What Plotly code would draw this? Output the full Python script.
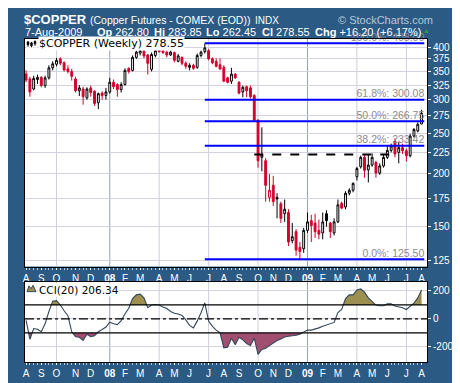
import plotly.graph_objects as go
import pandas as pd
import math

# ---------------- data (weekly, first bar week of 2007-08-06) ----------------
open_ = [345, 336, 318, 335, 339, 324, 338, 357, 364, 375, 367, 355, 350, 336, 315, 318, 303, 320, 314, 295,
         311, 307, 313, 330, 326, 317, 326, 356, 352, 378, 387, 391, 383, 354, 382, 393, 392, 389, 383, 388,
         370, 378, 366, 358, 362, 358, 382, 390, 392, 375, 370, 363, 358, 338, 332, 345, 330, 313, 322, 320,
         307, 268, 219, 215, 176, 188, 176, 170, 161, 162, 139, 146, 134, 133, 147, 155, 153, 147, 145, 161,
         153, 145, 154, 170.5, 167, 180, 183, 197, 208, 219, 204.5, 210, 213, 201, 209, 219, 227.5, 239, 225, 231,
         227, 221, 246, 253, 262.80]
high = [352, 340, 342, 344, 341, 342, 362, 370, 377, 378, 370, 362, 355, 340, 325, 322, 321, 324, 316, 312,
        314, 320, 338, 335, 328, 330, 356, 358, 382, 392, 396, 395, 385, 388, 396, 399, 396, 392, 392, 390,
        385, 380, 370, 366, 365, 386, 392, 408, 396, 378, 376, 376, 362, 340, 357, 347, 332, 324, 324, 324,
        309, 270, 258, 218, 200, 198, 180, 172, 174, 165, 153, 148, 138, 149, 162, 160, 161, 156, 162, 164,
        154, 157, 174, 172, 182, 185, 191, 208, 221, 222, 223, 224, 215, 212, 223, 233, 236, 243, 238, 236,
        230, 249, 257, 265, 283.85]
low = [330, 305, 316, 327, 321, 320, 335, 352, 360, 362, 350, 346, 333, 312, 306, 292, 300, 305, 290, 285,
       300, 300, 310, 318, 305, 312, 324, 346, 350, 375, 382, 376, 344, 350, 378, 388, 385, 378, 381, 368,
       368, 362, 355, 352, 353, 355, 378, 386, 372, 364, 358, 353, 330, 328, 327, 336, 309, 304, 304, 302,
       266, 207, 203, 172, 172, 168, 157, 153, 154, 135, 137, 128, 125.5, 130, 145, 138, 141, 140, 140, 150,
       141, 143, 153, 165, 165, 178, 181, 193, 206, 196, 191, 208, 196, 199, 207, 217, 225, 219, 212, 223,
       214, 219, 244, 251, 262.45]
close = [334, 313, 337, 339, 324, 338, 357, 365, 372, 366, 353, 350, 341, 315, 320, 305, 318, 312, 294, 310,
         307, 313, 330, 322, 317, 326, 352, 350, 378, 389, 392, 381, 366, 384, 392, 390, 388, 383, 389, 372,
         381, 366, 360, 362, 356, 382, 389, 398, 375, 367, 360, 355, 332, 330, 345, 338, 311, 321, 315, 305,
         268, 215, 222, 188, 183, 172, 174.5, 157, 165, 138, 142, 132, 131, 147, 154, 151, 146, 144, 154, 155,
         146, 154, 169, 166, 180, 183, 190, 206, 219, 204, 210, 219, 201, 209, 219, 227.5, 233, 223, 231, 227,
         221, 246, 255, 262.35, 278.55]
cci = [-10, -145, -69, -74, -92, -35, 53, 127, 131, 99, 58, 23, -92, -127, -131, -154, -110, -127, -120, -92,
       -76, -58, -23, -35, -41, -12, 35, 76, 145, 172, 177, 150, 80, 99, 103, 99, 85, 74, 53, 41,
       35, 25, -7, -46, -64, -16, 44, 115, -16, -53, -80, -99, -207, -202, -138, -184, -131, -150, -177, -191,
       -138, -253, -218, -209, -191, -172, -154, -143, -129, -124, -122, -117, -110, -92, -80, -80, -74, -64, -53, -44,
       -30, -25, 46, 67, 145, 172, 172, 207, 214, 191, 150, 122, 99, 94, 94, 108, 108, 92, 87, 80,
       67, 92, 113, 150, 206.34]

price_ticks = [125, 150, 175, 200, 225, 250, 275, 300, 325, 350, 375, 400]
cci_ticks = [-200, 0, 200]
cci_bands = [100, -100]
fib_pcts = [100.0, 61.8, 50.0, 38.2, 0.0]
fib_levels = [408.00, 300.08, 266.75, 233.42, 125.50]
support_level = 222.5
support_span = [60, 96]          # bar indices of the dashed line ends
month_letters = ["J", "F", "M", "A", "M", "J", "J", "A", "S", "O", "N", "D"]

# ---------------- helpers ----------------
n = len(close)
weeks = pd.date_range("2007-08-06", periods=n, freq="7D")
BG = "#2b5a84"
RED = "#d4002d"
OLIVE = "#9c8f50"
MAROON = "#a04f70"
W, H = 460, 383
ML, MR, MT, MB = 17, 41, 31, 17


def px_x(x):
    return (x - ML) / (W - ML - MR)


def px_y(y):
    return (H - MB - y) / (H - MT - MB)


fig = go.Figure()

# candles coloured the StockCharts way: red when close below previous close
red_idx = [i for i in range(n) if (close[i] < close[i - 1] if i > 0 else close[i] < open_[i])]
blk_idx = [i for i in range(n) if i not in red_idx]
for idx, col in ((blk_idx, "black"), (red_idx, RED)):
    fig.add_trace(go.Candlestick(
        x=[weeks[i] for i in idx], open=[open_[i] for i in idx], high=[high[i] for i in idx],
        low=[low[i] for i in idx], close=[close[i] for i in idx],
        increasing=dict(line=dict(color=col, width=1), fillcolor="white"),
        decreasing=dict(line=dict(color=col, width=1), fillcolor=col),
        whiskerwidth=0, hoverinfo="skip", showlegend=False, xaxis="x", yaxis="y"))

# Fibonacci retracement lines
i_hi = max(range(n), key=lambda i: high[i])
fib_end = weeks[-1] + pd.Timedelta(days=5)
for pct, lvl in zip(fib_pcts, fib_levels):
    fig.add_trace(go.Scatter(x=[weeks[i_hi], fib_end], y=[lvl, lvl], mode="lines",
                             line=dict(color="#0000ff", width=2), hoverinfo="skip", showlegend=False,
                             xaxis="x", yaxis="y"))
    fig.add_trace(go.Scatter(x=[fib_end], y=[lvl], mode="text", text=[f"{pct:.1f}%: {lvl:.2f}"],
                             textposition="top left", textfont=dict(color="#8c8c8c", size=10.5,
                                                                     family="Liberation Sans"),
                             cliponaxis=False, hoverinfo="skip", showlegend=False, xaxis="x", yaxis="y"))

# dashed support line
fig.add_trace(go.Scatter(x=[weeks[support_span[0]], weeks[support_span[1]]], y=[support_level] * 2,
                         mode="lines", line=dict(color="black", width=2, dash="dash"),
                         hoverinfo="skip", showlegend=False, xaxis="x", yaxis="y"))

# ---------------- CCI panel ----------------
tms = [t.value / 1e6 for t in weeks]


def clip_series(thr, above):
    xs, ys = [], []
    for k in range(n):
        v = cci[k]
        if k > 0:
            v0 = cci[k - 1]
            if (v0 - thr) * (v - thr) < 0:
                f = (thr - v0) / (v - v0)
                xs.append(tms[k - 1] + f * (tms[k] - tms[k - 1]))
                ys.append(thr)
        xs.append(tms[k])
        ys.append(max(v, thr) if above else min(v, thr))
    return pd.to_datetime(xs, unit="ms"), ys


for thr, above, col in ((cci_bands[0], True, OLIVE), (cci_bands[1], False, MAROON)):
    xs, ys = clip_series(thr, above)
    fig.add_trace(go.Scatter(x=xs, y=[thr] * len(xs), mode="lines", line=dict(width=0),
                             hoverinfo="skip", showlegend=False, xaxis="x2", yaxis="y2"))
    fig.add_trace(go.Scatter(x=xs, y=ys, mode="lines", line=dict(width=0), fill="tonexty",
                             fillcolor=col, hoverinfo="skip", showlegend=False, xaxis="x2", yaxis="y2"))

fig.add_trace(go.Scatter(x=weeks, y=cci, mode="lines", line=dict(color="#34475a", width=1.1),
                         hoverinfo="skip", showlegend=False, xaxis="x2", yaxis="y2"))

# ---------------- axes ----------------
month_vals, month_text = [], []
quarter_vals = []
for i, d in enumerate(weeks):
    if i == 0 or d.month != weeks[i - 1].month:
        month_vals.append(d)
        month_text.append(f"<b>{d.strftime('%y')}</b>" if d.month == 1 else month_letters[d.month - 1])
        if i > 0 and d.month in (1, 4, 7, 10):
            quarter_vals.append(d)

x_range = [weeks[0] - pd.Timedelta(days=2), weeks[-1] + pd.Timedelta(days=10)]
tickfont = dict(color="white", size=10, family="Liberation Sans")
xcommon = dict(type="date", range=x_range, tickvals=month_vals, ticktext=month_text, tickfont=tickfont,
               ticks="outside", ticklen=2, tickcolor="white", showgrid=False, showline=True,
               linecolor="black", linewidth=1, mirror=True, fixedrange=True,
               minor=dict(tickvals=list(weeks), ticks="outside", ticklen=2, tickcolor="#b8c8d8",
                          showgrid=False),
               rangeslider=dict(visible=False))

shapes = []
for d in quarter_vals:
    gc = "#9aa0b0" if d.month == 1 else "#cfcfdc"
    for xr, yr in (("x", "y domain"), ("x2", "y2 domain")):
        shapes.append(dict(type="line", xref=xr, yref=yr, x0=d, x1=d, y0=0, y1=1,
                           line=dict(color=gc, width=1), layer="below"))
for lvl in cci_bands:
    shapes.append(dict(type="line", xref="x2 domain", yref="y2", x0=0, x1=1, y0=lvl, y1=lvl,
                       line=dict(color="black", width=1.3)))
shapes.append(dict(type="line", xref="x2 domain", yref="y2", x0=0, x1=1, y0=0, y1=0,
                   line=dict(color="black", width=1.2, dash="dashdot")))


def pxpath(points):
    return "M " + " L ".join(f"{px_x(x)},{px_y(y)}" for x, y in points) + " Z"


# legend icons (small candle glyph and small mountain glyph)
shapes.append(dict(type="rect", xref="paper", yref="paper", x0=px_x(18), x1=px_x(29),
                   y0=px_y(40), y1=px_y(32), fillcolor="white", line=dict(width=0)))
for x0, ytop, ybot, btop, bbot in ((20, 33, 39, 34, 37), (23.5, 34, 39.5, 35, 38), (27, 32.5, 38, 33.5, 36)):
    shapes.append(dict(type="line", xref="paper", yref="paper", x0=px_x(x0), x1=px_x(x0),
                       y0=px_y(ybot), y1=px_y(ytop), line=dict(color="black", width=1)))
    shapes.append(dict(type="rect", xref="paper", yref="paper", x0=px_x(x0 - 1), x1=px_x(x0 + 1),
                       y0=px_y(bbot), y1=px_y(btop), fillcolor="black", line=dict(color="black", width=0.5)))
shapes.append(dict(type="rect", xref="paper", yref="paper", x0=px_x(18), x1=px_x(29),
                   y0=px_y(294), y1=px_y(285), fillcolor="white", line=dict(width=0)))
shapes.append(dict(type="path", xref="paper", yref="paper",
                   path=pxpath([(19, 293), (21, 287), (23, 290), (25, 286.5), (28, 293)]),
                   fillcolor=OLIVE, line=dict(color="#34475a", width=1)))

price_lo = 400 * math.exp(-(267 - 39.3) / 190)
price_hi = 400 * math.exp((39.3 - 31) / 190)

annotations = []


def ann(x, y, text, size=11, color="white", family="Liberation Sans", **kw):
    d = dict(xref="paper", yref="paper", x=px_x(x), y=px_y(y), text=text, showarrow=False,
             xanchor="left", yanchor="middle", font=dict(size=size, color=color, family=family))
    d.update(kw)
    annotations.append(d)


ann(14, 11, "<b>$COPPER</b>", size=13)
ann(80, 11.5, "(Copper Futures - COMEX (EOD))", size=10.5)
ann(245, 11.5, "INDX", size=10)
ann(328, 11, "© StockCharts.com", size=11, color="#b7c8da")
ann(15, 23.5, "7-Aug-2009", size=11)
chg = close[-1] - close[-2]
ann(87, 23.5, f"<b>Op</b> {open_[-1]:.2f}", size=11)
ann(144, 23.5, f"<b>Hi</b> {high[-1]:.2f}", size=11)
ann(196, 23.5, f"<b>Lo</b> {low[-1]:.2f}", size=11)
ann(252, 23.5, f"<b>Cl</b> {close[-1]:.2f}", size=11)
ann(305, 23.5, f"<b>Chg</b> {chg:+.2f} ({chg / close[-2] * 100:+.2f}%)", size=11)
ann(413, 22.5, "▲", size=7, color="#2e9a3e")
ann(30, 36, f"$COPPER (Weekly) {close[-1]:.2f}", size=11, color="black", family="DejaVu Sans",
    bgcolor="white", borderpad=0)
ann(30, 291, f"CCI(20) {cci[-1]:.2f}", size=10.5, color="black", family="DejaVu Sans",
    bgcolor="white", borderpad=0)

fig.update_layout(
    width=W, height=H, margin=dict(l=ML, r=MR, t=MT, b=MB, pad=0),
    paper_bgcolor=BG, plot_bgcolor="white", showlegend=False,
    font=dict(family="Liberation Sans", color="white"),
    xaxis=dict(**xcommon, anchor="y", domain=[0, 1]),
    xaxis2=dict(**xcommon, anchor="y2", domain=[0, 1], matches="x"),
    yaxis=dict(type="log", range=[math.log10(price_lo), math.log10(price_hi)], domain=[px_y(267), 1],
               side="right", tickvals=price_ticks, ticktext=[str(v) for v in price_ticks],
               tickfont=tickfont, ticks="outside", ticklen=3, tickcolor="white",
               showgrid=True, gridcolor="#d3d3e0", gridwidth=1, showline=True, linecolor="black",
               mirror=True, zeroline=False, fixedrange=True),
    yaxis2=dict(range=[-308, 264], domain=[0, px_y(283)], side="right", tickvals=cci_ticks,
                ticktext=[str(v) for v in cci_ticks], tickfont=tickfont, ticks="outside", ticklen=3,
                tickcolor="white", showgrid=True, gridcolor="#d3d3e0", showline=True,
                linecolor="black", mirror=True, zeroline=False, fixedrange=True),
    shapes=shapes, annotations=annotations,
)

fig.write_html("out.html")
